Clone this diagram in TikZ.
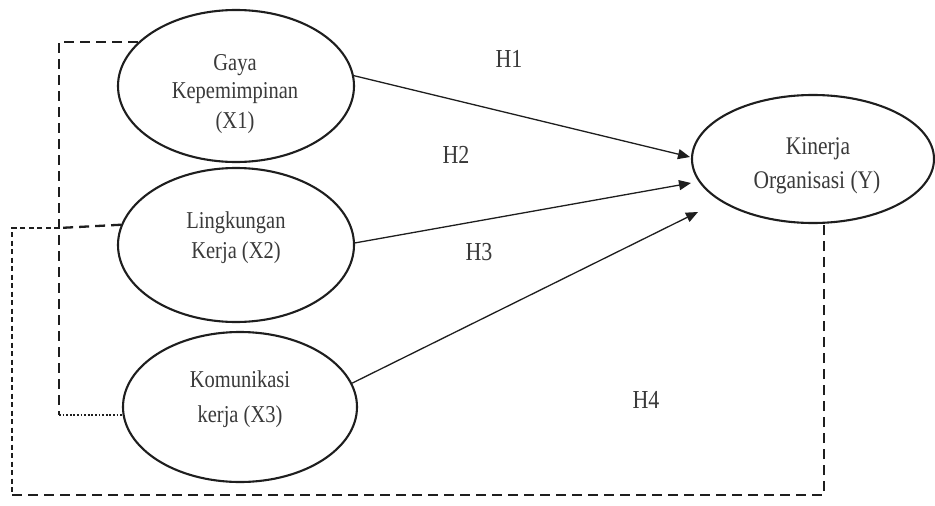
\documentclass[tikz,border=0pt]{standalone}
\usepackage{fontspec}
\setmainfont{Liberation Serif}
\usetikzlibrary{arrows.meta,shapes.geometric}
\definecolor{ink}{HTML}{1E1E1E}
\definecolor{txt}{HTML}{3A3A3A}
\newcommand{\vs}[1]{\scalebox{1}[1.18]{#1}}
\begin{document}
\begin{tikzpicture}[x=1pt,y=-1pt,
  ell/.style={ellipse, draw=ink, line width=2.1pt, inner sep=0pt},
  lbl/.style={text=txt, font=\fontsize{20.5}{24}\selectfont, inner sep=0pt, anchor=base},
  hlbl/.style={text=txt, font=\fontsize{22}{26}\selectfont, inner sep=0pt, anchor=base},
  longdash/.style={draw=ink, line width=2.3pt, dash pattern=on 10pt off 6pt},
  shortdash/.style={draw=ink, line width=1.7pt, dash pattern=on 5pt off 3.5pt},
  dotline/.style={draw=ink, line width=1.7pt, dash pattern=on 1.8pt off 1.8pt},
  arr/.style={draw=ink, line width=1.3pt, -{Triangle[length=12pt,width=10pt]}}]
\useasboundingbox (0,0) rectangle (935,506);
\fill[white] (0,0) rectangle (935,506);

% ellipses
\node[ell, minimum width=236pt, minimum height=152pt] (X1) at (236,86) {};
\node[ell, minimum width=236pt, minimum height=154pt] (X2) at (236,245) {};
\node[ell, minimum width=234pt, minimum height=150pt] (X3) at (240,407) {};
\node[ell, minimum width=242pt, minimum height=128pt] (Y) at (813,159) {};

% texts
\node[lbl] (x1a) at (235,70) {\vs{Gaya}};
\node[lbl] (x1b) at (235,98) {\vs{Kepemimpinan}};
\node[lbl] (x1c) at (235,128) {\vs{(X1)}};
\node[lbl] (x2a) at (236,228) {\vs{Lingkungan}};
\node[lbl] (x2b) at (236,258) {\vs{Kerja (X2)}};
\node[lbl] (x3a) at (240,387) {\vs{Komunikasi}};
\node[lbl] (x3b) at (240,422) {\vs{kerja (X3)}};
\node[lbl, font=\fontsize{21.5}{24}\selectfont] (ya) at (818,154) {\vs{Kinerja}};
\node[lbl, font=\fontsize{21.5}{24}\selectfont] (yb) at (817,188) {\vs{Organisasi (Y)}};

% hypothesis labels
\node[hlbl] (h1) at (509,67) {\vs{H1}};
\node[hlbl] (h2) at (456,163) {\vs{H2}};
\node[hlbl] (h3) at (479,260) {\vs{H3}};
\node[hlbl] (h4) at (646,408) {\vs{H4}};

% arrow tips
\coordinate (t1) at (690,157);
\coordinate (t2) at (691,183);
\coordinate (t3) at (698,212);
\draw[arr] (X1.5) -- (t1);
\draw[arr] (X2.1) -- (t2);
\draw[arr] (X3.12) -- (t3);

% dashed connectors
\coordinate (k1) at (59,415);
\coordinate (k2) at (59,228);
\coordinate (k3) at (12,495);
\coordinate (k4) at (824,495);
\coordinate (k5) at (824,222);
\draw[longdash] (X1.156) -| (k1);
\draw[dotline] (k1) -- (X3.west |- k1);
\draw[longdash] (X2.170) -- (k2);
\draw[shortdash] (k2) -| (k3);
\draw[longdash] (k3) -- (k4) -- (k5);
\end{tikzpicture}
\end{document}
